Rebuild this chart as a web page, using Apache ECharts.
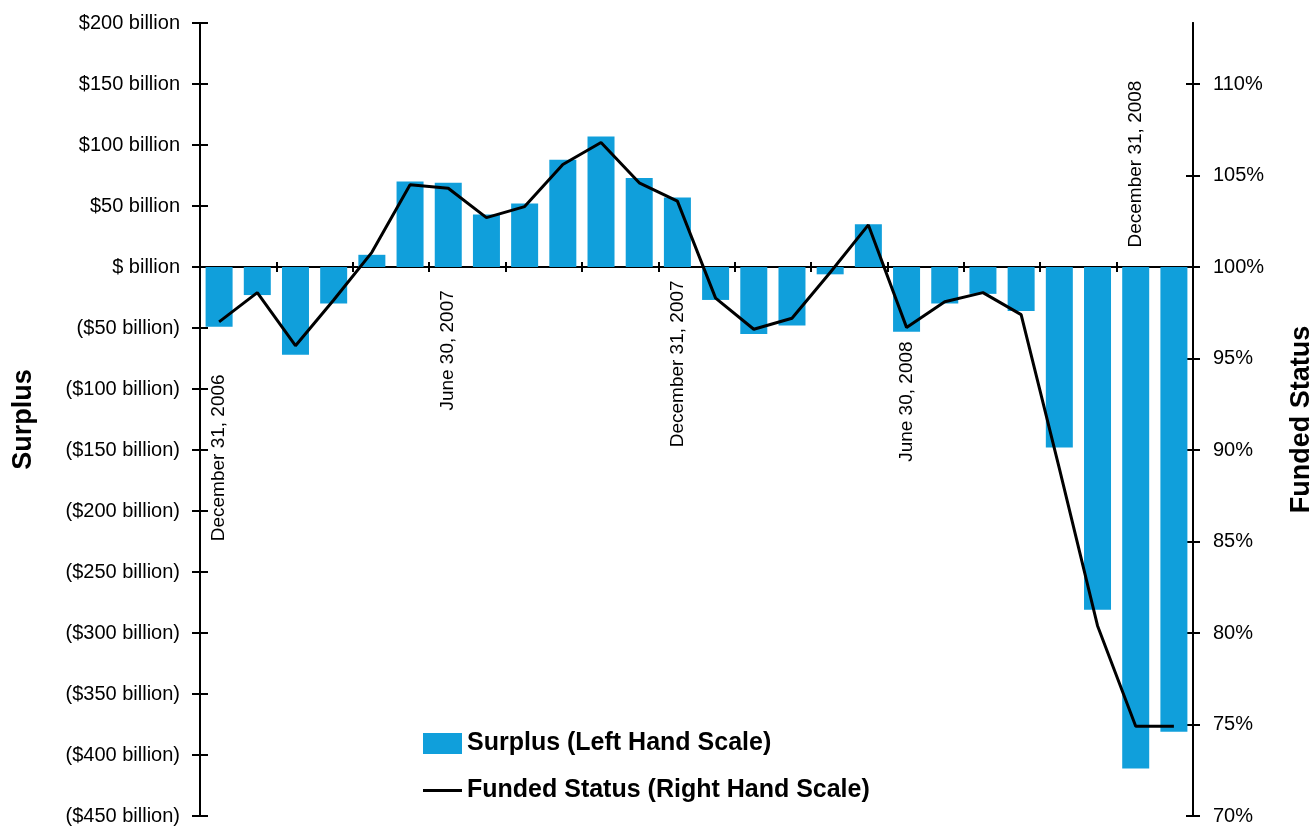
<!DOCTYPE html>
<html>
<head>
<meta charset="utf-8">
<script src="https://cdn.jsdelivr.net/npm/echarts@6/dist/echarts.min.js"></script>
<style>
html, body { margin: 0; padding: 0; background: #ffffff; }
#chart { width: 1315px; height: 831px; }
</style>
</head>
<body>
<div id="chart"></div>
<script>
// ---------- data ----------
const categories = [
  'Dec 2006', 'Jan 2007', 'Feb 2007', 'Mar 2007', 'Apr 2007', 'May 2007', 'Jun 2007',
  'Jul 2007', 'Aug 2007', 'Sep 2007', 'Oct 2007', 'Nov 2007', 'Dec 2007',
  'Jan 2008', 'Feb 2008', 'Mar 2008', 'Apr 2008', 'May 2008', 'Jun 2008',
  'Jul 2008', 'Aug 2008', 'Sep 2008', 'Oct 2008', 'Nov 2008', 'Dec 2008', 'Jan 2009'
];
// Surplus, $ billion (left hand scale)
const surplus = [
  -49, -23, -72, -30, 10, 70, 69,
  43, 52, 88, 107, 73, 57,
  -27, -55, -48, -6, 35, -53,
  -30, -22, -36, -148, -281, -411, -381
];
// Funded status, % (right hand scale)
const fundedStatus = [
  97.0, 98.6, 95.7, 98.2, 100.8, 104.5, 104.3,
  102.7, 103.3, 105.6, 106.8, 104.6, 103.6,
  98.3, 96.6, 97.2, 99.7, 102.3, 96.7,
  98.1, 98.6, 97.4, 89.0, 80.4, 74.9, 74.9
];
const leftTickValues = [200, 150, 100, 50, 0, -50, -100, -150, -200, -250, -300, -350, -400, -450];
const rightTickValues = [70, 75, 80, 85, 90, 95, 100, 105, 110];
const dateLabelCategories = ['Dec 2006', 'Jun 2007', 'Dec 2007', 'Jun 2008', 'Dec 2008'];
const dateLabelTexts = ['December 31, 2006', 'June 30, 2007', 'December 31, 2007', 'June 30, 2008', 'December 31, 2008'];
const seriesNames = ['Surplus (Left Hand Scale)', 'Funded Status (Right Hand Scale)'];
const axisTitles = ['Surplus', 'Funded Status'];

// ---------- layout / style ----------
const leftMin = -450, leftMax = 200, leftInterval = 50;
const rightMin = 70, rightBase = 100;
// right axis aligned so that 100% sits on the $0 line
const rightMax = rightBase + (rightBase - rightMin) * (leftMax / -leftMin);
// annotation anchors (left-scale units) and whether text runs upward
const dateLabelAnchor = [-88, -19, -11, -61, 16];
const dateLabelUp = [false, false, false, false, true];

const FONT = '"Liberation Sans", Arial, Helvetica, sans-serif';
const BLUE = '#109fdb';

function leftFmt(v) {
  if (v > 0) return '$' + v + ' billion';
  if (v === 0) return '$ billion';
  return '($' + (-v) + ' billion)';
}

const axisLineStyle = { show: true, lineStyle: { color: '#000', width: 2 } };

const markData = dateLabelCategories.map((c, i) => ({
  coord: [c, dateLabelAnchor[i]],
  label: {
    formatter: dateLabelTexts[i],
    align: dateLabelUp[i] ? 'left' : 'right'
  }
}));

const chart = echarts.init(document.getElementById('chart'), null, { renderer: 'canvas' });
chart.setOption({
  animation: false,
  backgroundColor: '#ffffff',
  textStyle: { fontFamily: FONT },
  grid: { left: 200, right: 122, top: 23, bottom: 15, containLabel: false, outerBoundsMode: 'none' },
  legend: {
    orient: 'vertical',
    left: 418,
    top: 726,
    itemWidth: 39,
    itemHeight: 21,
    itemGap: 22,
    data: [
      { name: seriesNames[0], icon: 'rect' },
      { name: seriesNames[1], icon: 'path://M0 0H39V3H0Z' }
    ],
    textStyle: { fontFamily: FONT, fontSize: 25, fontWeight: 'bold', color: '#000' }
  },
  xAxis: [
    {
      type: 'category', position: 'bottom', data: categories,
      axisLine: Object.assign({ onZero: true }, axisLineStyle),
      axisTick: { show: true, inside: false, length: 5, lineStyle: { color: '#000', width: 2 } },
      axisLabel: { show: false },
      splitLine: { show: false }
    },
    {
      type: 'category', position: 'bottom', data: categories,
      axisLine: Object.assign({ onZero: true }, axisLineStyle),
      axisTick: { show: true, inside: true, length: 5, lineStyle: { color: '#000', width: 2 } },
      axisLabel: { show: false },
      splitLine: { show: false }
    }
  ],
  yAxis: [
    {
      type: 'value', position: 'left', min: leftMin, max: leftMax, interval: leftInterval,
      name: axisTitles[0], nameLocation: 'middle', nameGap: 163,
      nameTextStyle: { fontFamily: FONT, fontSize: 27, fontWeight: 'bold', color: '#000' },
      axisLine: axisLineStyle,
      axisTick: { show: true, inside: false, length: 8, lineStyle: { color: '#000', width: 2 } },
      axisLabel: { formatter: leftFmt, margin: 20, fontSize: 20, color: '#000', fontFamily: FONT },
      splitLine: { show: false }
    },
    {
      type: 'value', position: 'right', min: rightMin, max: rightMax,
      name: axisTitles[1], nameLocation: 'middle', nameGap: 95,
      nameTextStyle: { fontFamily: FONT, fontSize: 27, fontWeight: 'bold', color: '#000' },
      axisLine: axisLineStyle,
      axisTick: { show: true, inside: false, length: 7, customValues: rightTickValues, lineStyle: { color: '#000', width: 2 } },
      axisLabel: { formatter: v => v + '%', customValues: rightTickValues, margin: 20, fontSize: 20, color: '#000', fontFamily: FONT },
      splitLine: { show: false }
    },
    {
      type: 'value', position: 'left', min: leftMin, max: leftMax, interval: leftInterval,
      axisLine: axisLineStyle,
      axisTick: { show: true, inside: true, length: 8, lineStyle: { color: '#000', width: 2 } },
      axisLabel: { show: false },
      splitLine: { show: false }
    },
    {
      type: 'value', position: 'right', min: rightMin, max: rightMax,
      axisLine: axisLineStyle,
      axisTick: { show: true, inside: true, length: 7, customValues: rightTickValues, lineStyle: { color: '#000', width: 2 } },
      axisLabel: { show: false, customValues: rightTickValues },
      splitLine: { show: false }
    }
  ],
  series: [
    {
      name: seriesNames[0],
      type: 'bar',
      xAxisIndex: 0,
      yAxisIndex: 0,
      data: surplus,
      barWidth: 27,
      itemStyle: { color: BLUE },
      z: 2,
      markPoint: {
        symbol: 'rect',
        symbolSize: 1,
        itemStyle: { color: 'rgba(0,0,0,0)' },
        label: {
          show: true,
          position: 'inside',
          rotate: 90,
          verticalAlign: 'middle',
          color: '#000',
          fontFamily: FONT,
          fontSize: 19
        },
        data: markData
      }
    },
    {
      name: seriesNames[1],
      type: 'line',
      xAxisIndex: 0,
      yAxisIndex: 1,
      data: fundedStatus,
      symbol: 'none',
      smooth: false,
      lineStyle: { color: '#000', width: 3 },
      itemStyle: { color: '#000' },
      z: 5
    }
  ]
});
</script>
</body>
</html>
